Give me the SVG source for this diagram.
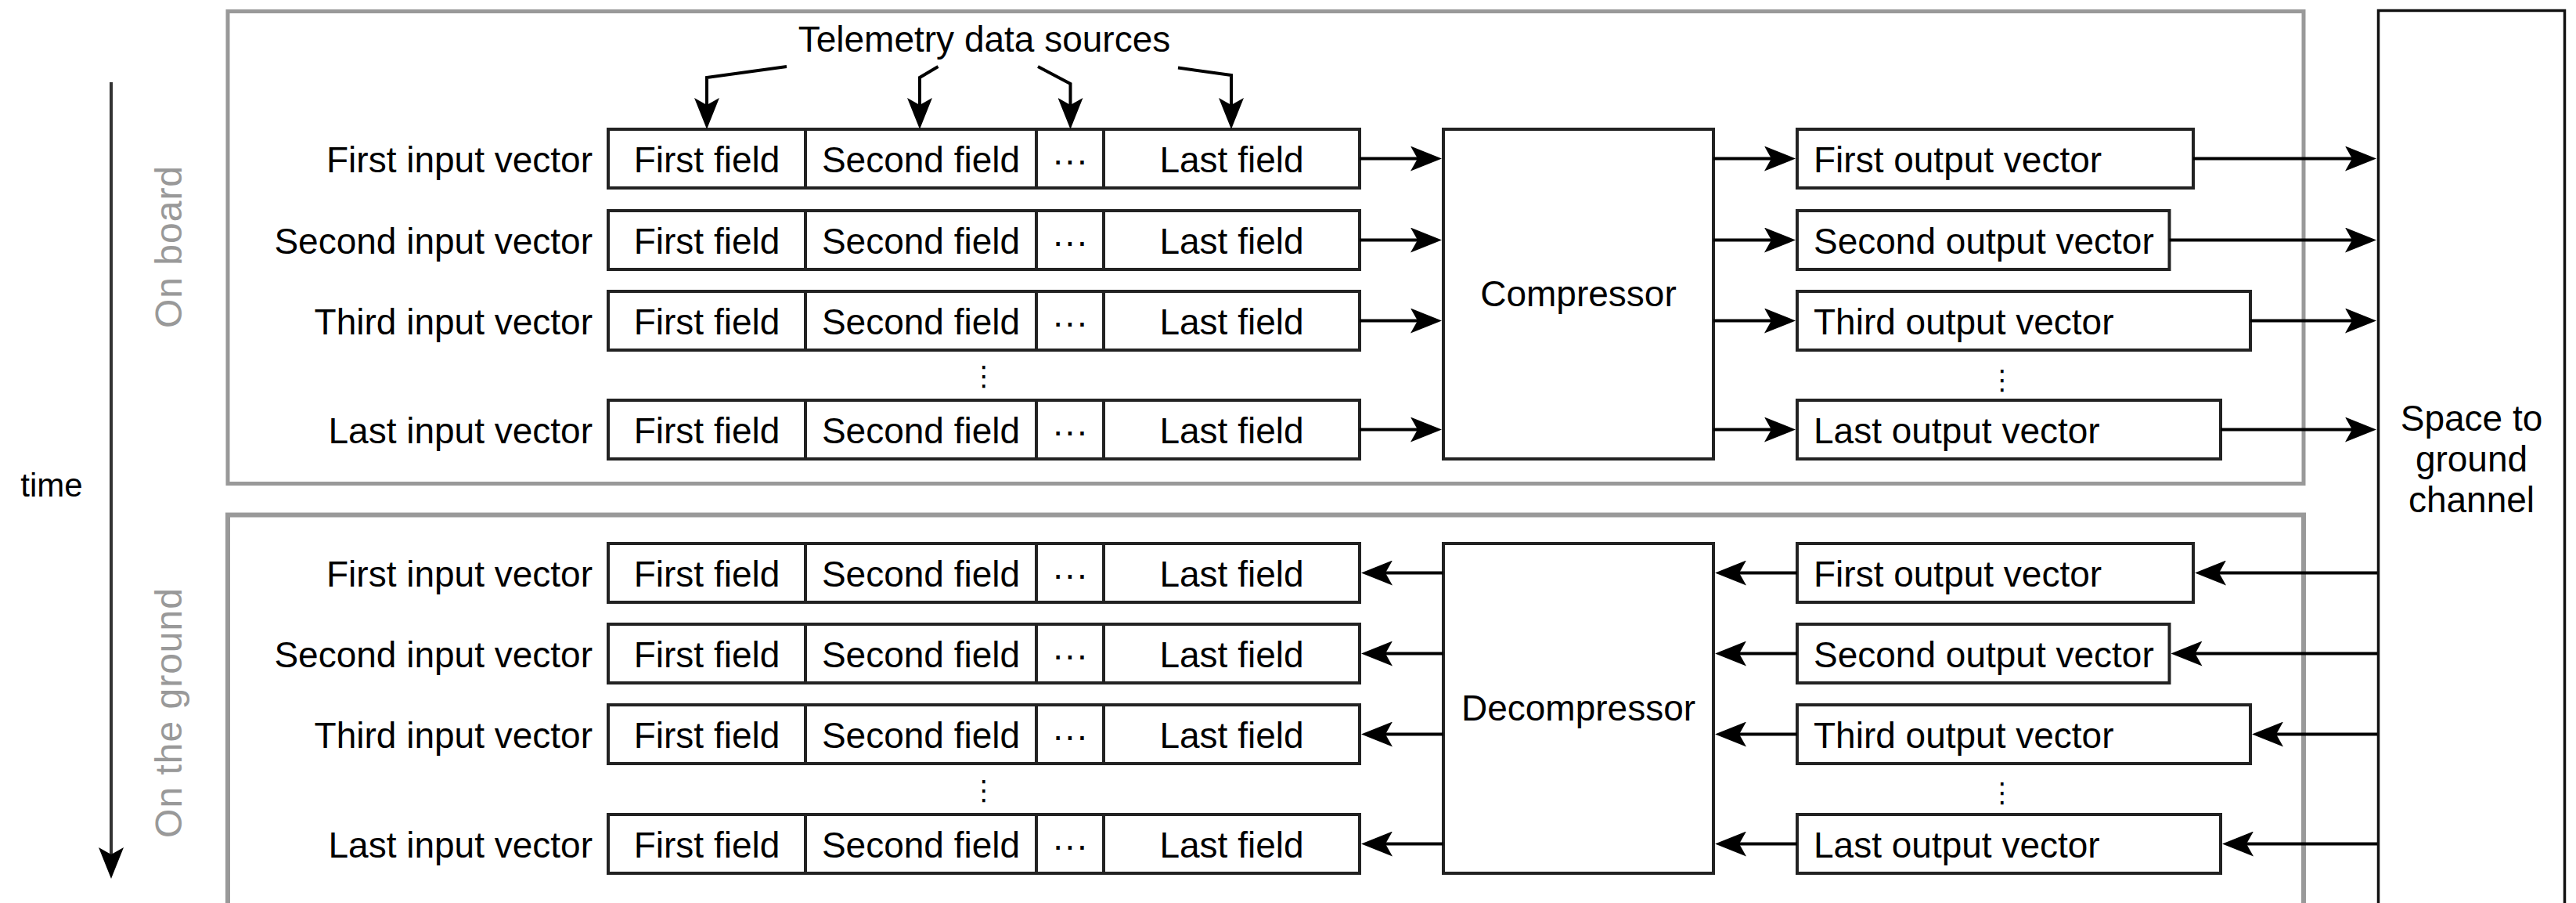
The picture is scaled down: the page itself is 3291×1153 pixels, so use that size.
<svg xmlns="http://www.w3.org/2000/svg" width="3291" height="1153" viewBox="0 0 3291 1153">
  <defs>
    <marker id="arrow" viewBox="0 0 40 32" refX="31" refY="16" markerWidth="40" markerHeight="32" markerUnits="userSpaceOnUse" orient="auto">
      <path d="M0,0 L40,16 L0,32 L9,16 Z" fill="#000"/>
    </marker>
    <style>
      text { font-family: "Liberation Sans", Arial, sans-serif; font-size: 46px; fill: #000; }
      .box { fill: #fff; stroke: #222; stroke-width: 4; }
      .panel { fill: none; stroke: #999; stroke-width: 5; }
      .channel { fill: #fff; stroke: #111; stroke-width: 3.5; }
      .lbl { text-anchor: end; }
      .mid { text-anchor: middle; }
      .side { fill: #999; font-size: 48px; letter-spacing: 1px; text-anchor: middle; }
      .conn { fill: none; stroke: #000; stroke-width: 4; marker-end: url(#arrow); }
      .vdots { font-family: "DejaVu Sans", sans-serif; font-size: 35px; text-anchor: middle; }
    </style>
  </defs>

  <rect x="0" y="0" width="3291" height="1153" fill="#fff"/>

  <!-- time axis -->
  <g id="time-axis">
    <path d="M142,105 V1113" fill="none" stroke="#333" stroke-width="4" marker-end="url(#arrow)"/>
    <text x="66" y="634" class="mid" style="font-size:42px">time</text>
  </g>

  <!-- stage panels -->
  <g id="panel-on-board">
    <rect class="panel" x="291" y="14.5" width="2652" height="603"/>
    <text class="side" transform="translate(232,315) rotate(-90)">On board</text>
  </g>
  <g id="panel-on-ground">
    <rect class="panel" x="291" y="657.5" width="2652" height="560" style="stroke-width:6"/>
    <text class="side" transform="translate(232,910) rotate(-90)">On the ground</text>
  </g>

  <!-- transmission channel -->
  <g id="channel">
    <rect class="channel" x="3038.5" y="13.5" width="238" height="1150"/>
    <text class="mid" x="3157.5" y="550">Space to</text>
    <text class="mid" x="3157.5" y="602">ground</text>
    <text class="mid" x="3157.5" y="654">channel</text>
  </g>

  <!-- telemetry sources label -->
  <g id="telemetry-sources">
    <text class="mid" x="1257.5" y="66">Telemetry data sources</text>
  </g>

  <!-- on-board input vectors -->
  <g id="input-top-1" transform="translate(0,165)">
    <text class="lbl" x="757" y="54.5">First input vector</text>
    <rect class="box" x="777" y="0" width="252" height="75"/>
    <rect class="box" x="1029" y="0" width="295" height="75"/>
    <rect class="box" x="1324" y="0" width="86" height="75"/>
    <rect class="box" x="1410" y="0" width="327" height="75"/>
    <text class="mid" x="903" y="54.5">First field</text>
    <text class="mid" x="1176.5" y="54.5">Second field</text>
    <text class="mid" x="1367" y="54.5">···</text>
    <text class="mid" x="1573.5" y="54.5">Last field</text>
  </g>
  <g id="input-top-2" transform="translate(0,269)">
    <text class="lbl" x="757" y="54.5">Second input vector</text>
    <rect class="box" x="777" y="0" width="252" height="75"/>
    <rect class="box" x="1029" y="0" width="295" height="75"/>
    <rect class="box" x="1324" y="0" width="86" height="75"/>
    <rect class="box" x="1410" y="0" width="327" height="75"/>
    <text class="mid" x="903" y="54.5">First field</text>
    <text class="mid" x="1176.5" y="54.5">Second field</text>
    <text class="mid" x="1367" y="54.5">···</text>
    <text class="mid" x="1573.5" y="54.5">Last field</text>
  </g>
  <g id="input-top-3" transform="translate(0,372)">
    <text class="lbl" x="757" y="54.5">Third input vector</text>
    <rect class="box" x="777" y="0" width="252" height="75"/>
    <rect class="box" x="1029" y="0" width="295" height="75"/>
    <rect class="box" x="1324" y="0" width="86" height="75"/>
    <rect class="box" x="1410" y="0" width="327" height="75"/>
    <text class="mid" x="903" y="54.5">First field</text>
    <text class="mid" x="1176.5" y="54.5">Second field</text>
    <text class="mid" x="1367" y="54.5">···</text>
    <text class="mid" x="1573.5" y="54.5">Last field</text>
  </g>
  <text class="vdots" x="1257" y="492">⋮</text>
  <g id="input-top-4" transform="translate(0,511)">
    <text class="lbl" x="757" y="54.5">Last input vector</text>
    <rect class="box" x="777" y="0" width="252" height="75"/>
    <rect class="box" x="1029" y="0" width="295" height="75"/>
    <rect class="box" x="1324" y="0" width="86" height="75"/>
    <rect class="box" x="1410" y="0" width="327" height="75"/>
    <text class="mid" x="903" y="54.5">First field</text>
    <text class="mid" x="1176.5" y="54.5">Second field</text>
    <text class="mid" x="1367" y="54.5">···</text>
    <text class="mid" x="1573.5" y="54.5">Last field</text>
  </g>

  <!-- compressor -->
  <g id="compressor">
    <rect class="box" x="1844" y="165" width="345" height="421"/>
    <text class="mid" x="2016.5" y="391">Compressor</text>
  </g>

  <!-- on-board output vectors -->
  <g id="output-top-1" transform="translate(0,165)">
    <rect class="box" x="2296" y="0" width="506" height="75"/>
    <text x="2317" y="54.5">First output vector</text>
  </g>
  <g id="output-top-2" transform="translate(0,269)">
    <rect class="box" x="2296" y="0" width="475.5" height="75"/>
    <text x="2317" y="54.5">Second output vector</text>
  </g>
  <g id="output-top-3" transform="translate(0,372)">
    <rect class="box" x="2296" y="0" width="579" height="75"/>
    <text x="2317" y="54.5">Third output vector</text>
  </g>
  <text class="vdots" x="2558" y="497">⋮</text>
  <g id="output-top-4" transform="translate(0,511)">
    <rect class="box" x="2296" y="0" width="541" height="75"/>
    <text x="2317" y="54.5">Last output vector</text>
  </g>

  <!-- ground input vectors (reconstructed) -->
  <g id="input-bottom-1" transform="translate(0,694)">
    <text class="lbl" x="757" y="54.5">First input vector</text>
    <rect class="box" x="777" y="0" width="252" height="75"/>
    <rect class="box" x="1029" y="0" width="295" height="75"/>
    <rect class="box" x="1324" y="0" width="86" height="75"/>
    <rect class="box" x="1410" y="0" width="327" height="75"/>
    <text class="mid" x="903" y="54.5">First field</text>
    <text class="mid" x="1176.5" y="54.5">Second field</text>
    <text class="mid" x="1367" y="54.5">···</text>
    <text class="mid" x="1573.5" y="54.5">Last field</text>
  </g>
  <g id="input-bottom-2" transform="translate(0,797)">
    <text class="lbl" x="757" y="54.5">Second input vector</text>
    <rect class="box" x="777" y="0" width="252" height="75"/>
    <rect class="box" x="1029" y="0" width="295" height="75"/>
    <rect class="box" x="1324" y="0" width="86" height="75"/>
    <rect class="box" x="1410" y="0" width="327" height="75"/>
    <text class="mid" x="903" y="54.5">First field</text>
    <text class="mid" x="1176.5" y="54.5">Second field</text>
    <text class="mid" x="1367" y="54.5">···</text>
    <text class="mid" x="1573.5" y="54.5">Last field</text>
  </g>
  <g id="input-bottom-3" transform="translate(0,900)">
    <text class="lbl" x="757" y="54.5">Third input vector</text>
    <rect class="box" x="777" y="0" width="252" height="75"/>
    <rect class="box" x="1029" y="0" width="295" height="75"/>
    <rect class="box" x="1324" y="0" width="86" height="75"/>
    <rect class="box" x="1410" y="0" width="327" height="75"/>
    <text class="mid" x="903" y="54.5">First field</text>
    <text class="mid" x="1176.5" y="54.5">Second field</text>
    <text class="mid" x="1367" y="54.5">···</text>
    <text class="mid" x="1573.5" y="54.5">Last field</text>
  </g>
  <text class="vdots" x="1257" y="1021">⋮</text>
  <g id="input-bottom-4" transform="translate(0,1040)">
    <text class="lbl" x="757" y="54.5">Last input vector</text>
    <rect class="box" x="777" y="0" width="252" height="75"/>
    <rect class="box" x="1029" y="0" width="295" height="75"/>
    <rect class="box" x="1324" y="0" width="86" height="75"/>
    <rect class="box" x="1410" y="0" width="327" height="75"/>
    <text class="mid" x="903" y="54.5">First field</text>
    <text class="mid" x="1176.5" y="54.5">Second field</text>
    <text class="mid" x="1367" y="54.5">···</text>
    <text class="mid" x="1573.5" y="54.5">Last field</text>
  </g>

  <!-- decompressor -->
  <g id="decompressor">
    <rect class="box" x="1844" y="694" width="345" height="421"/>
    <text class="mid" x="2016.5" y="920">Decompressor</text>
  </g>

  <!-- received output vectors -->
  <g id="output-bottom-1" transform="translate(0,694)">
    <rect class="box" x="2296" y="0" width="506" height="75"/>
    <text x="2317" y="54.5">First output vector</text>
  </g>
  <g id="output-bottom-2" transform="translate(0,797)">
    <rect class="box" x="2296" y="0" width="475.5" height="75"/>
    <text x="2317" y="54.5">Second output vector</text>
  </g>
  <g id="output-bottom-3" transform="translate(0,900)">
    <rect class="box" x="2296" y="0" width="579" height="75"/>
    <text x="2317" y="54.5">Third output vector</text>
  </g>
  <text class="vdots" x="2558" y="1024">⋮</text>
  <g id="output-bottom-4" transform="translate(0,1040)">
    <rect class="box" x="2296" y="0" width="541" height="75"/>
    <text x="2317" y="54.5">Last output vector</text>
  </g>

  <!-- connectors -->
  <g id="connectors">
    <!-- telemetry sources feed the fields -->
    <path class="conn" d="M1005,85 L903,99 L903,156"/>
    <path class="conn" d="M1198.5,85 L1175,99 L1175,156"/>
    <path class="conn" d="M1326,85 L1367.5,107 L1367.5,156"/>
    <path class="conn" d="M1505,86.5 L1573,96 L1573,156"/>

    <!-- inputs to compressor -->
    <path class="conn" d="M1737,202.5 H1833"/>
    <path class="conn" d="M1737,306.5 H1833"/>
    <path class="conn" d="M1737,409.5 H1833"/>
    <path class="conn" d="M1737,548.5 H1833"/>

    <!-- compressor to outputs -->
    <path class="conn" d="M2189,202.5 H2285"/>
    <path class="conn" d="M2189,306.5 H2285"/>
    <path class="conn" d="M2189,409.5 H2285"/>
    <path class="conn" d="M2189,548.5 H2285"/>

    <!-- outputs into the channel -->
    <path class="conn" d="M2802,202.5 H3027"/>
    <path class="conn" d="M2771.5,306.5 H3027"/>
    <path class="conn" d="M2875,409.5 H3027"/>
    <path class="conn" d="M2837,548.5 H3027"/>

    <!-- channel to received outputs -->
    <path class="conn" d="M3037,731.5 H2813"/>
    <path class="conn" d="M3037,834.5 H2782.5"/>
    <path class="conn" d="M3037,937.5 H2886"/>
    <path class="conn" d="M3037,1077.5 H2848"/>

    <!-- received outputs to decompressor -->
    <path class="conn" d="M2296,731.5 H2200"/>
    <path class="conn" d="M2296,834.5 H2200"/>
    <path class="conn" d="M2296,937.5 H2200"/>
    <path class="conn" d="M2296,1077.5 H2200"/>

    <!-- decompressor to reconstructed inputs -->
    <path class="conn" d="M1844,731.5 H1748"/>
    <path class="conn" d="M1844,834.5 H1748"/>
    <path class="conn" d="M1844,937.5 H1748"/>
    <path class="conn" d="M1844,1077.5 H1748"/>
  </g>
</svg>
